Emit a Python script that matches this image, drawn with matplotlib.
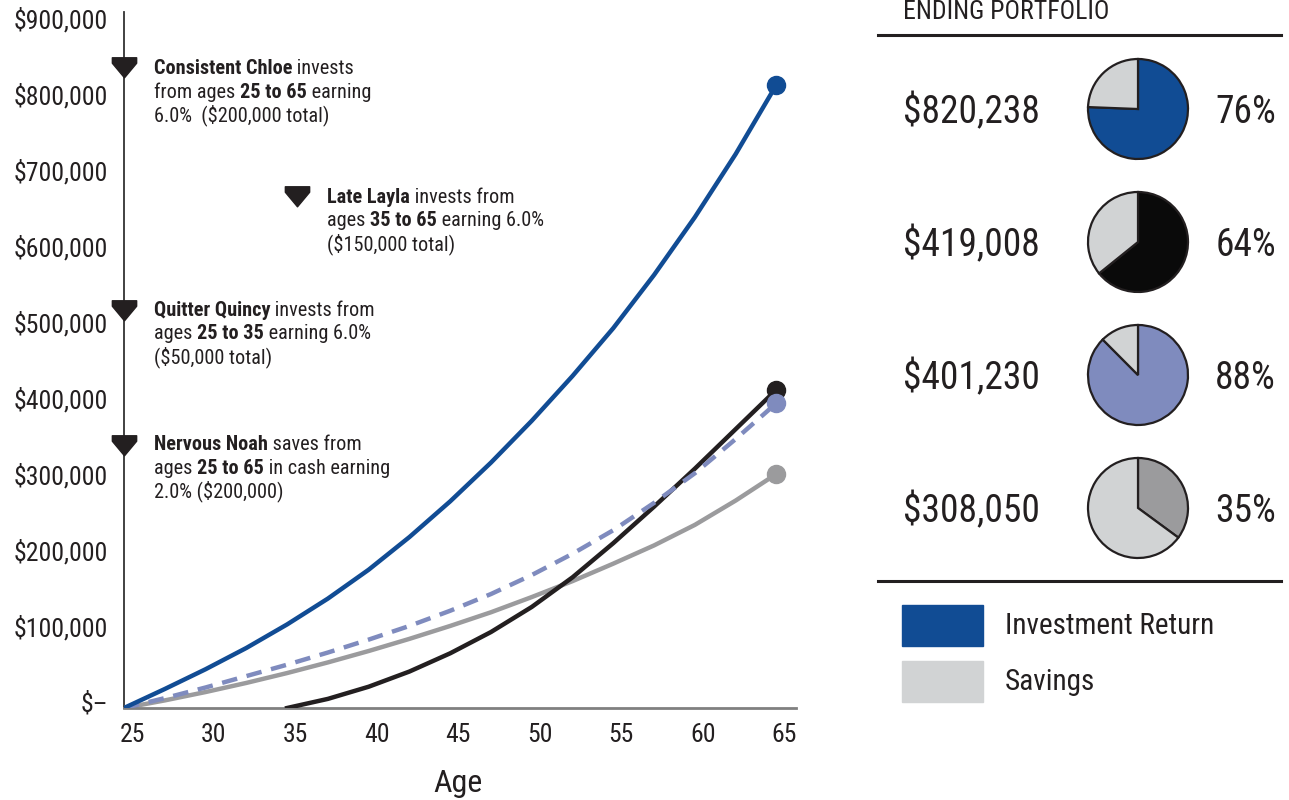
import matplotlib.pyplot as plt
from matplotlib.path import Path
from matplotlib.patches import Rectangle
from matplotlib.transforms import ScaledTranslation

plt.rcParams['font.family'] = ['Roboto Condensed', 'Liberation Sans', 'DejaVu Sans']

# ---- data (in dollars) ----
ages = [25, 27.5, 30, 32.5, 35, 37.5, 40, 42.5, 45, 47.5, 50, 52.5, 55, 57.5, 60, 62.5, 65]
chloe = [0, 25000, 51000, 79000, 110000, 144000, 182000, 225000, 272000, 323000,
         378000, 437000, 500000, 570000, 646000, 729000, 820238]
quincy = [0, 13000, 27000, 42000, 57000, 73000, 90000, 108000, 128000, 150000,
          175000, 203000, 234000, 270000, 309000, 354000, 401230]
noah = [0, 10000, 21000, 33000, 46000, 60000, 75000, 91000, 108000, 126000,
        146000, 167000, 190000, 214000, 241000, 273000, 308050]
layla_ages = [35, 37.5, 40, 42.5, 45, 47.5, 50, 52.5, 55, 57.5, 60, 62.5, 65]
layla = [0, 12000, 28000, 48000, 72000, 100000, 133000, 172000, 217000, 265000,
         315000, 367000, 419008]

ending = [820238, 419008, 401230, 308050]
contributed = [200000, 150000, 50000, 200000]
pct_labels = ["76%", "64%", "88%", "35%"]
yticks = [0, 100000, 200000, 300000, 400000, 500000, 600000, 700000, 800000, 900000]
xticks = [25, 30, 35, 40, 45, 50, 55, 60, 65]

BLUE = '#114C94'
BLACK = '#231F20'
PERI = '#7F8BBE'
GRAY = '#9B9B9D'
LIGHT = '#D1D3D4'
pie_colors = [BLUE, '#0A0A0A', PERI, GRAY]

W, H = 1289, 800
fig = plt.figure(figsize=(W / 100, H / 100), dpi=100)


def fx(x):
    return x / W


def fy(y):
    return 1 - y / H


# ---- line chart ----
ax = fig.add_axes([fx(124), fy(708), fx(796) - fx(124), fy(12) - fy(708)])
ax.plot(ages, noah, color=GRAY, lw=3.2, zorder=2)
ax.plot(layla_ages, layla, color=BLACK, lw=3.2, zorder=3)
ax.plot(ages, quincy, color=PERI, lw=3.2, dashes=(3.5, 2.2), zorder=4)
ax.plot(ages, chloe, color=BLUE, lw=3.2, zorder=5)
ax.plot(ages[-1], noah[-1], 'o', color=GRAY, ms=13, zorder=6)
ax.plot(layla_ages[-1], layla[-1], 'o', color=BLACK, ms=13, zorder=6)
ax.plot(ages[-1], quincy[-1], 'o', color=PERI, ms=13, zorder=6)
ax.plot(ages[-1], chloe[-1], 'o', color=BLUE, ms=13, zorder=6)

ax.set_xlim(25, 66.2)
ax.set_ylim(0, 916000)
ax.set_xticks(xticks)
ax.set_yticks(yticks)
ax.set_xticklabels([str(a) for a in xticks])
ax.set_yticklabels(["$" + f"{v:,}" if v else "$\u2013" for v in yticks])
ax.tick_params(length=0, labelsize=18.5, colors=BLACK)
ax.tick_params(axis='y', pad=11.5)
ax.tick_params(axis='x', pad=10.5)
for lab in ax.get_xticklabels():
    lab.set_transform(lab.get_transform() + ScaledTranslation(8 / 100, 0, fig.dpi_scale_trans))
for lab in ax.get_yticklabels():
    lab.set_transform(lab.get_transform() + ScaledTranslation(0, 6 / 100, fig.dpi_scale_trans))
for s in ['top', 'right']:
    ax.spines[s].set_visible(False)
ax.spines['left'].set_color('#333333')
ax.spines['left'].set_linewidth(1.3)
ax.spines['bottom'].set_color('#808080')
ax.spines['bottom'].set_linewidth(2)
fig.text(fx(458), fy(783), "Age", fontsize=23, color=BLACK, ha='center', va='center')

# annotation markers
flag = Path([(-1, 0.8), (1, 0.8), (1, 0.35), (0, -0.85), (-1, 0.35), (-1, 0.8)],
            [Path.MOVETO, Path.LINETO, Path.LINETO, Path.LINETO, Path.LINETO, Path.CLOSEPOLY])
flag_pos = [(25, 843000), (35.6, 674000), (25, 524000), (25, 346000)]
for px, py in flag_pos:
    ax.plot(px, py, marker=flag, ms=17.5, color=BLACK, clip_on=False, zorder=7)

notes = [
    (154, 74, [[("Consistent Chloe", 'bold'), (" invests", 'normal')],
               [("from ages ", 'normal'), ("25 to 65", 'bold'), (" earning", 'normal')],
               [("6.0%  ($200,000 total)", 'normal')]]),
    (327, 203, [[("Late Layla", 'bold'), (" invests from", 'normal')],
                [("ages ", 'normal'), ("35 to 65", 'bold'), (" earning 6.0%", 'normal')],
                [("($150,000 total)", 'normal')]]),
    (154, 316, [[("Quitter Quincy", 'bold'), (" invests from", 'normal')],
                [("ages ", 'normal'), ("25 to 35", 'bold'), (" earning 6.0%", 'normal')],
                [("($50,000 total)", 'normal')]]),
    (154, 450, [[("Nervous Noah", 'bold'), (" saves from", 'normal')],
                [("ages ", 'normal'), ("25 to 65", 'bold'), (" in cash earning", 'normal')],
                [("2.0% ($200,000)", 'normal')]]),
]
for x0, y0, lines in notes:
    for i, parts in enumerate(lines):
        prev = None
        for txt, wt in parts:
            if prev is None:
                prev = fig.text(fx(x0), fy(y0 + i * 23.5), txt, fontsize=14.6, fontweight=wt,
                                color=BLACK, va='baseline', ha='left')
            else:
                prev = ax.annotate(txt, xy=(1, 0), xycoords=prev, va='bottom', ha='left',
                                   fontsize=14.6, fontweight=wt, color=BLACK,
                                   annotation_clip=False)

# ---- ending portfolio panel ----
fig.text(fx(903), fy(19), "ENDING PORTFOLIO", fontsize=18.5, color=BLACK,
         va='baseline', ha='left')
fig.add_artist(plt.Line2D([fx(878), fx(1281)], [fy(35), fy(35)], color=BLACK, lw=2.2))
fig.add_artist(plt.Line2D([fx(878), fx(1281)], [fy(581), fy(581)], color=BLACK, lw=2.2))

row_y = [109, 242, 375, 508]
for i, cy in enumerate(row_y):
    fig.text(fx(903), fy(cy + 14), "$" + f"{ending[i]:,}", fontsize=27, color=BLACK,
             va='baseline', ha='left')
    fig.text(fx(1276), fy(cy + 14), pct_labels[i], fontsize=27, color=BLACK,
             va='baseline', ha='right')
    gain = ending[i] - contributed[i]
    pax = fig.add_axes([fx(1138 - 52), fy(cy + 52), 104 / W, 104 / H])
    pax.pie([gain, contributed[i]], colors=[pie_colors[i], LIGHT], startangle=90,
            counterclock=False, radius=1, wedgeprops=dict(edgecolor=BLACK, linewidth=1.6))
    pax.set_xlim(-1.04, 1.04)
    pax.set_ylim(-1.04, 1.04)
    pax.set_aspect('equal')
    pax.axis('off')

fig.add_artist(Rectangle((fx(902), fy(646)), 81 / W, 41 / H, color=BLUE))
fig.add_artist(Rectangle((fx(902), fy(702)), 81 / W, 41 / H, color=LIGHT))
fig.text(fx(1005), fy(626), "Investment Return", fontsize=21, color=BLACK, va='center')
fig.text(fx(1005), fy(682), "Savings", fontsize=21, color=BLACK, va='center')

fig.savefig("out.png", dpi=100)
